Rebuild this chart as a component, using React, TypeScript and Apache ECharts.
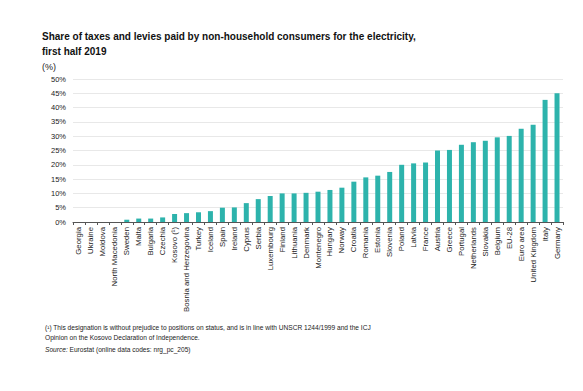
import React, { useEffect, useRef } from "react";
import * as echarts from "echarts";

const categories = [
  "Georgia", "Ukraine", "Moldova", "North Macedonia", "Sweden", "Malta", "Bulgaria", "Czechia",
  "Kosovo (¹)", "Bosnia and Herzegovina", "Turkey", "Iceland", "Spain", "Ireland", "Cyprus", "Serbia",
  "Luxembourg", "Finland", "Lithuania", "Denmark", "Montenegro", "Hungary", "Norway", "Croatia",
  "Romania", "Estonia", "Slovenia", "Poland", "Latvia", "France", "Austria", "Greece", "Portugal",
  "Netherlands", "Slovakia", "Belgium", "EU-28", "Euro area", "United Kingdom", "Italy", "Germany",
];
const values = [
  0, 0, 0, 0, 0.8, 1.2, 1.2, 1.6,
  2.8, 3.1, 3.4, 3.8, 5.0, 5.1, 6.6, 8.0,
  9.1, 10.0, 10.0, 10.2, 10.6, 11.2, 12.0, 14.1,
  15.6, 16.2, 17.5, 20.0, 20.5, 20.8, 25.0, 25.2, 27.0,
  27.9, 28.4, 29.6, 30.1, 32.6, 34.0, 42.7, 45.0,
];
const yTicks = { min: 0, max: 50, interval: 5 };

const titleLines = [
  "Share of taxes and levies paid by non-household consumers for the electricity,",
  "first half 2019",
];
const unitText = "(%)";
const footLines = [
  "(¹) This designation is without prejudice to positions on status, and is in line with UNSCR 1244/1999 and the ICJ",
  "Opinion on the Kosovo Declaration of Independence.",
];
const sourceLabel = "Source:";
const sourceText = "Eurostat (online data codes: nrg_pc_205)";

const FONT = "'Liberation Sans', Arial, sans-serif";

export default function App() {
  const ref = useRef<HTMLDivElement>(null);
  useEffect(() => {
    if (!ref.current) return;
    const chart = echarts.init(ref.current, null, { renderer: "svg" });
    chart.setOption({
      animation: false,
      backgroundColor: "#ffffff",
      textStyle: { fontFamily: FONT },
      grid: { left: 73, right: 20, top: 79, bottom: 169, containLabel: false },
      xAxis: {
        type: "category",
        data: categories,
        axisLine: { lineStyle: { color: "#555555", width: 1 } },
        axisTick: { show: true, alignWithLabel: false, length: 3, lineStyle: { color: "#555555" } },
        axisLabel: { rotate: 90, interval: 0, fontSize: 7.8, color: "#222222", margin: 5, fontFamily: FONT },
      },
      yAxis: {
        type: "value",
        min: yTicks.min,
        max: yTicks.max,
        interval: yTicks.interval,
        axisLine: { show: false },
        axisTick: { show: false },
        splitLine: { lineStyle: { color: "#e8e8e8", width: 1 } },
        axisLabel: { formatter: "{value}%", fontSize: 7.5, color: "#222222", margin: 7, fontFamily: FONT },
      },
      series: [
        {
          type: "bar",
          data: values,
          barWidth: 5,
          itemStyle: { color: "#2db3ac" },
        },
      ],
      graphic: [
        { type: "text", left: 42, top: 31, style: { text: titleLines[0], font: `bold 10px ${FONT}`, fill: "#111111" } },
        { type: "text", left: 42, top: 46, style: { text: titleLines[1], font: `bold 10px ${FONT}`, fill: "#111111" } },
        { type: "text", left: 42, top: 62, style: { text: unitText, font: `9px ${FONT}`, fill: "#222222" } },
        { type: "text", left: 45, top: 324, style: { text: footLines[0], font: `6.6px ${FONT}`, fill: "#222222" } },
        { type: "text", left: 45, top: 334, style: { text: footLines[1], font: `6.6px ${FONT}`, fill: "#222222" } },
        {
          type: "text", left: 45, top: 346,
          style: {
            text: `{i|${sourceLabel}} ${sourceText}`,
            font: `6.6px ${FONT}`, fill: "#222222",
            rich: { i: { fontStyle: "italic", fontSize: 6.6, fontFamily: FONT, fill: "#222222" } },
          },
        },
      ],
    });
    return () => chart.dispose();
  }, []);
  return <div ref={ref} style={{ width: 583, height: 391, position: "absolute", left: 0, top: 0 }} />;
}
